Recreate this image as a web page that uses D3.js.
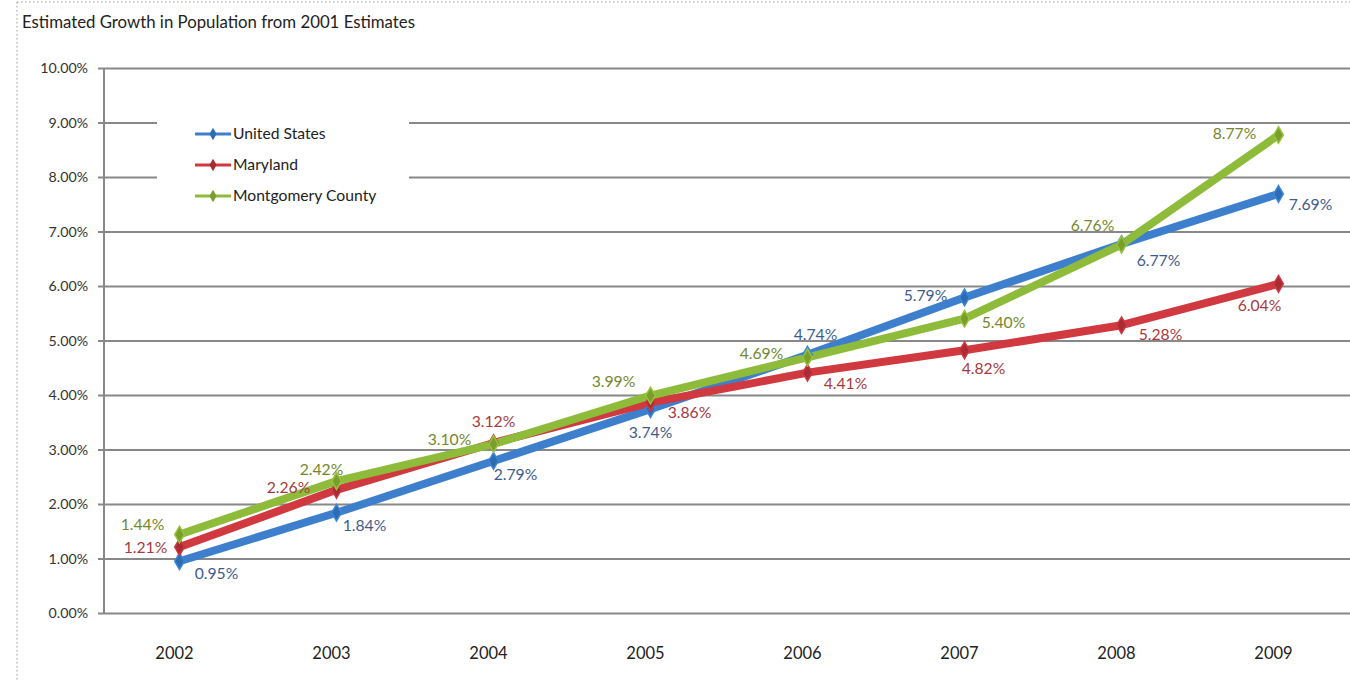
<!DOCTYPE html>
<html>
<head>
<meta charset="utf-8">
<script src="https://cdn.jsdelivr.net/npm/d3@7/dist/d3.min.js"></script>
<style>
  html, body { margin: 0; padding: 0; background: #fff; }
  svg { display: block; }
</style>
</head>
<body>
<svg id="chart" width="1350" height="681"></svg>
<script>
// Population growth relative to 2001 estimates, in percent
const years = ["2002", "2003", "2004", "2005", "2006", "2007", "2008", "2009"];
const seriesNames = ["United States", "Maryland", "Montgomery County"];
const unitedStates = [0.95, 1.84, 2.79, 3.74, 4.74, 5.79, 6.77, 7.69];
const maryland = [1.21, 2.26, 3.12, 3.86, 4.41, 4.82, 5.28, 6.04];
const montgomery = [1.44, 2.42, 3.10, 3.99, 4.69, 5.40, 6.76, 8.77];
const yTicks = [0, 1, 2, 3, 4, 5, 6, 7, 8, 9, 10];

// Styling and value-label placement (offset of each label from its point)
const lineColors = ["#3d7fcc", "#d0393f", "#8fbb3b"];
const markColors = ["#2f6bb0", "#a82c33", "#7a9e2e"];
const labelColors = ["#3f5b8c", "#a63a40", "#74872c"];
const labelOffsets = [
  [[37, 12], [28, 13], [22, 14], [0, 23], [8, -20], [-39, -2], [37, 16], [32, 11]],
  [[-34, 0], [-48, -2], [0, -21], [39, 10], [38, 11], [19, 18], [39, 9], [-19, 22]],
  [[-37, -10], [-15, -12], [-44, -5], [-37, -14], [-46, -4], [39, 4], [-29, -19], [-44, -2]]
];

const series = [unitedStates, maryland, montgomery].map((vals, i) => ({
  name: seriesNames[i],
  values: vals.map((v, j) => ({ year: years[j], value: v })),
  line: lineColors[i], mark: markColors[i], label: labelColors[i],
  offsets: labelOffsets[i]
}));

const svg = d3.select("#chart");
const W = 1350, H = 681;
const axisX = 104, plotTop = 68, plotBottom = 613;
const font = "Lato, 'Open Sans', sans-serif";

const x = d3.scaleBand().domain(years).range([101, 1357]);
const y = d3.scaleLinear().domain([0, 10]).range([plotBottom, plotTop]);

// Dotted frame on the top and left
svg.append("line").attr("x1", 17).attr("x2", W).attr("y1", 2).attr("y2", 2)
  .attr("stroke", "#9a9a9a").attr("stroke-width", 1).attr("stroke-dasharray", "1.5,2.5");
svg.append("line").attr("x1", 17).attr("x2", 17).attr("y1", 2).attr("y2", H)
  .attr("stroke", "#9a9a9a").attr("stroke-width", 1).attr("stroke-dasharray", "1.5,2.5");

// Title
svg.append("text").attr("x", 22).attr("y", 28)
  .attr("font-family", font).attr("font-size", 16.8)
  .attr("fill", "#222").text("Estimated Growth in Population from 2001 Estimates");

// Horizontal gridlines with tick marks
const yAxis = d3.axisLeft(y).tickValues(yTicks)
  .tickSize(-(W - axisX + 10)).tickSizeOuter(0)
  .tickFormat(d => d3.format(".2f")(d) + "%");
const gy = svg.append("g").attr("transform", `translate(${axisX},0)`).call(yAxis);
gy.select(".domain").remove();
gy.selectAll(".tick line").attr("x1", -6).attr("stroke", "#888").attr("stroke-width", 2);
gy.selectAll(".tick text").attr("x", -16).attr("dy", "0.33em")
  .attr("font-family", font).attr("font-size", 14.2).attr("fill", "#333");

// Vertical axis line
svg.append("line").attr("x1", axisX).attr("x2", axisX).attr("y1", plotTop).attr("y2", plotBottom)
  .attr("stroke", "#888").attr("stroke-width", 2);

// Year labels
const xAxis = d3.axisBottom(x).tickSize(0).tickPadding(0);
const gx = svg.append("g").attr("transform", `translate(0,${plotBottom})`).call(xAxis);
gx.select(".domain").remove();
gx.selectAll(".tick text").attr("y", 34).attr("dx", -5)
  .attr("font-family", font).attr("font-size", 16.5).attr("fill", "#222");

const cx = d => x(d.year) + x.bandwidth() / 2;
const line = d3.line().x(cx).y(d => y(d.value));
const diamond = d3.symbol().type(d3.symbolDiamond).size(80);

// Legend with white backing that interrupts the gridlines
const legend = svg.append("g");
legend.append("rect").attr("x", 157).attr("y", 108).attr("width", 252).attr("height", 104).attr("fill", "#fff");
series.forEach((s, i) => {
  const ly = 134 + i * 31;
  legend.append("line").attr("x1", 195).attr("x2", 231).attr("y1", ly).attr("y2", ly)
    .attr("stroke", s.line).attr("stroke-width", 3);
  legend.append("path").attr("d", d3.symbol().type(d3.symbolDiamond).size(45)())
    .attr("transform", `translate(213,${ly})`).attr("fill", s.mark);
  legend.append("text").attr("x", 233).attr("y", ly).attr("dy", "0.35em")
    .attr("font-family", font).attr("font-size", 15.7)
    .attr("fill", "#222").text(s.name);
});

// Series lines, markers and value labels
series.forEach(s => {
  svg.append("path").datum(s.values).attr("d", line)
    .attr("fill", "none").attr("stroke", s.line).attr("stroke-width", 8)
    .attr("stroke-linejoin", "round").attr("stroke-linecap", "round");
});
series.forEach(s => {
  svg.selectAll(null).data(s.values).enter().append("path")
    .attr("d", diamond())
    .attr("transform", d => `translate(${cx(d)},${y(d.value)})`)
    .attr("fill", s.mark).attr("stroke", d3.color(s.mark).brighter(0.6)).attr("stroke-width", 1.5);
});
series.forEach(s => {
  svg.selectAll(null).data(s.values).enter().append("text")
    .attr("x", (d, j) => cx(d) + s.offsets[j][0])
    .attr("y", (d, j) => y(d.value) + s.offsets[j][1])
    .attr("dy", "0.35em").attr("text-anchor", "middle")
    .attr("font-family", font).attr("font-size", 15.7)
    .attr("fill", s.label)
    .text(d => d3.format(".2f")(d.value) + "%");
});
</script>
</body>
</html>
